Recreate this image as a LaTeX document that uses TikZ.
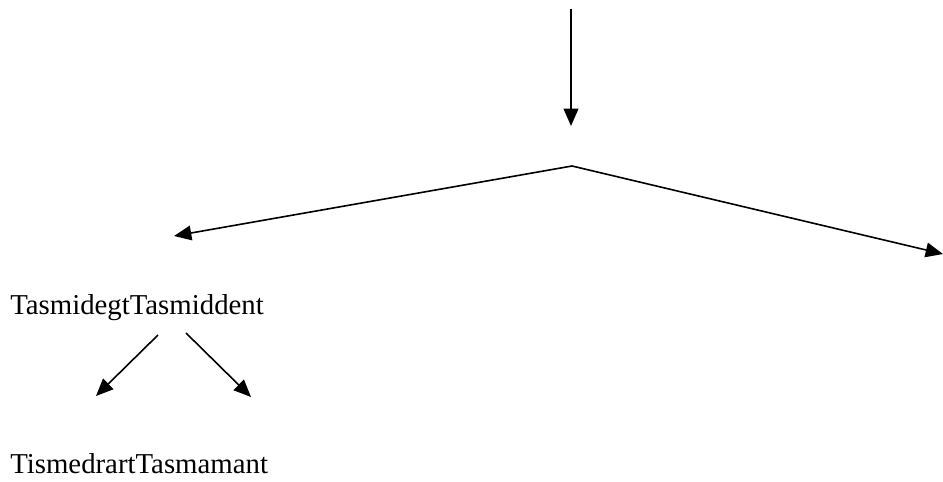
\documentclass[tikz,border=0pt]{standalone}
\usepackage{fontspec}
\setmainfont{Liberation Serif}
\usetikzlibrary{arrows.meta}
\tikzset{
  branch/.style={draw, line width=1.2pt, -{Triangle[length=13pt, width=11pt]}},
  label/.style={anchor=base west, inner sep=0pt, font=\fontsize{21.6}{26}\selectfont}
}
\begin{document}
\begin{tikzpicture}[x=0.75pt, y=-0.75pt]
\useasboundingbox (0,0) rectangle (943,482);
\coordinate (in) at (571,9);
\coordinate (stem) at (571,126);
\coordinate (apex) at (572,166);
\coordinate (lefttip) at (174,236);
\coordinate (righttip) at (943,254);
\node[label] (mid) at (10,314) {TasmidegtTasmiddent};
\coordinate (m1) at (158,335);
\coordinate (m2) at (186,333);
\coordinate (d1) at (96,396);
\coordinate (d2) at (251,397);
\node[label] (low) at (10,473) {TismedrartTasmamant};

\path[branch, line width=1.5pt] (in) -- (stem);
\path[branch] (apex) -- (lefttip);
\path[branch] (apex) -- (righttip);
\path[branch] (m1) -- (d1);
\path[branch] (m2) -- (d2);
\end{tikzpicture}
\end{document}
